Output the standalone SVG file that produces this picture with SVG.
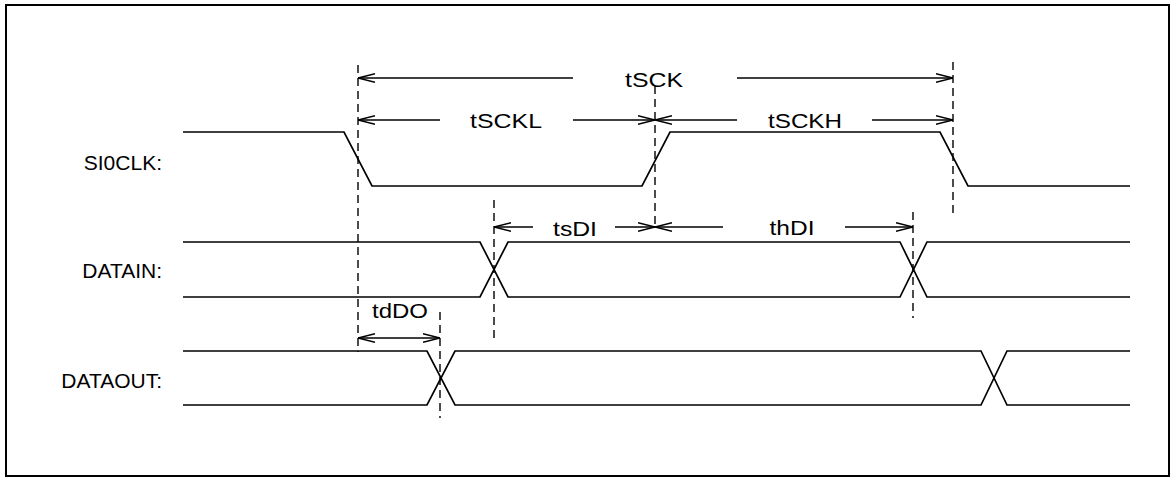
<svg xmlns="http://www.w3.org/2000/svg" width="1171" height="478" viewBox="0 0 1171 478">
<style>
.sig{fill:none;stroke:#000;stroke-width:1.7;stroke-linejoin:miter}
.dash{fill:none;stroke:#000;stroke-width:1.4;stroke-dasharray:8 5}
.dim{fill:none;stroke:#000;stroke-width:1.3}
.lbl{font-family:"Liberation Sans",Arial,sans-serif;font-size:21px;fill:#000;text-anchor:end}
.ann{font-family:"Liberation Sans",Arial,sans-serif;font-size:20px;fill:#000;text-anchor:middle}
</style>
<defs>
<marker id="ah" viewBox="0 0 17 10" refX="17" refY="5" markerWidth="17" markerHeight="10" markerUnits="userSpaceOnUse" orient="auto-start-reverse">
<path d="M0,0.8 L17,5 L0,9.2" fill="none" stroke="#000" stroke-width="1.4"/>
</marker>
</defs>
<rect x="6" y="5" width="1163" height="471" fill="#fff" stroke="#000" stroke-width="2"/>

<g id="labels">
<text class="lbl" x="162" y="170">SI0CLK:</text>
<text class="lbl" x="162" y="278">DATAIN:</text>
<text class="lbl" x="162" y="388">DATAOUT:</text>
</g>

<g id="sioclk">
<path class="sig" d="M183,132 H344 L372,186 H642 L670,132 H940 L968,186 H1130"/>
</g>
<g id="datain">
<path class="sig" d="M183,242 H480 L508,297 H900 L927,242 H1130"/>
<path class="sig" d="M183,297 H480 L508,242 H900 L927,297 H1130"/>
</g>
<g id="dataout">
<path class="sig" d="M183,351 H427 L455,405 H981 L1007,351 H1130"/>
<path class="sig" d="M183,405 H427 L455,351 H981 L1007,405 H1130"/>
</g>

<g id="connectors">
<line class="dash" x1="358" y1="65" x2="358" y2="352"/>
<line class="dash" x1="655" y1="86" x2="655" y2="228"/>
<line class="dash" x1="953" y1="62" x2="953" y2="214"/>
<line class="dash" x1="494" y1="200" x2="494" y2="340"/>
<line class="dash" x1="913" y1="212" x2="913" y2="318"/>
<line class="dash" x1="440" y1="312" x2="440" y2="418"/>

<line class="dim" x1="573" y1="78" x2="358" y2="78" marker-end="url(#ah)"/>
<line class="dim" x1="737" y1="78" x2="953" y2="78" marker-end="url(#ah)"/>
<line class="dim" x1="440" y1="120" x2="358" y2="120" marker-end="url(#ah)"/>
<line class="dim" x1="573" y1="120" x2="655" y2="120" marker-end="url(#ah)"/>
<line class="dim" x1="737" y1="120" x2="655" y2="120" marker-end="url(#ah)"/>
<line class="dim" x1="872" y1="120" x2="953" y2="120" marker-end="url(#ah)"/>
<line class="dim" x1="533" y1="227" x2="494" y2="227" marker-end="url(#ah)"/>
<line class="dim" x1="615" y1="227" x2="655" y2="227" marker-end="url(#ah)"/>
<line class="dim" x1="723" y1="227" x2="655" y2="227" marker-end="url(#ah)"/>
<line class="dim" x1="845" y1="227" x2="913" y2="227" marker-end="url(#ah)"/>
<line class="dim" x1="358" y1="338" x2="440" y2="338" marker-start="url(#ah)" marker-end="url(#ah)"/>
</g>

<g id="annotations">
<text class="ann" x="654" y="87" textLength="58" lengthAdjust="spacingAndGlyphs">tSCK</text>
<text class="ann" x="506" y="128" textLength="72" lengthAdjust="spacingAndGlyphs">tSCKL</text>
<text class="ann" x="805" y="128" textLength="74" lengthAdjust="spacingAndGlyphs">tSCKH</text>
<text class="ann" x="575" y="236" textLength="44" lengthAdjust="spacingAndGlyphs">tsDI</text>
<text class="ann" x="792" y="235" textLength="45" lengthAdjust="spacingAndGlyphs">thDI</text>
<text class="ann" x="400" y="318" textLength="56" lengthAdjust="spacingAndGlyphs">tdDO</text>
</g>
</svg>
